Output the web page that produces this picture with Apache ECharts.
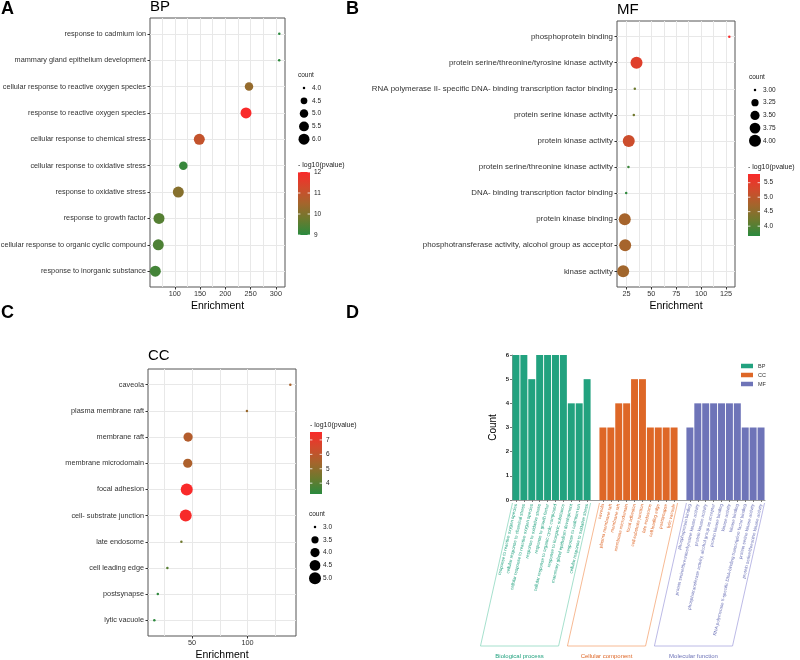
<!DOCTYPE html>
<html>
<head>
<meta charset="utf-8">
<script src="https://cdn.jsdelivr.net/npm/echarts@6/dist/echarts.min.js"></script>
<style>
html, body { margin: 0; padding: 0; background: #fff; }
#main { width: 800px; height: 660px; }
</style>
</head>
<body>
<div id="main"></div>
<script>
// ---- A: BP ----
const bpTerms = ['response to cadmium ion', 'mammary gland epithelium development', 'cellular response to reactive oxygen species', 'response to reactive oxygen species', 'cellular response to chemical stress', 'cellular response to oxidative stress', 'response to oxidative stress', 'response to growth factor', 'cellular response to organic cyclic compound', 'response to inorganic substance'];
const bpEnrich = [306.7, 306.5, 246.8, 240.9, 148.5, 116.9, 107.0, 68.8, 67.4, 61.5];
const bpCount = [4, 4, 5, 6, 6, 5, 6, 6, 6, 6];
const bpLogP = [9.0, 9.05, 10.3, 12.0, 11.0, 9.15, 10.1, 9.5, 9.4, 9.3];
const bpXTicks = [100, 150, 200, 250, 300];
const bpXLines = [75, 100, 125, 150, 175, 200, 225, 250, 275, 300];
const bpSizeBreaks = [4.0, 4.5, 5.0, 5.5, 6.0];
const bpColorTicks = [9, 10, 11, 12];

// ---- B: MF ----
const mfTerms = ['phosphoprotein binding', 'protein serine/threonine/tyrosine kinase activity', 'RNA polymerase II- specific DNA- binding transcription factor binding', 'protein serine kinase activity', 'protein kinase activity', 'protein serine/threonine kinase activity', 'DNA- binding transcription factor binding', 'protein kinase binding', 'phosphotransferase activity, alcohol group as acceptor', 'kinase activity'];
const mfEnrich = [128.3, 35.1, 33.4, 32.4, 27.3, 27.0, 24.7, 23.3, 23.7, 21.7];
const mfCount = [3, 4, 3, 3, 4, 3, 3, 4, 4, 4];
const mfLogP = [5.8, 5.45, 4.2, 4.25, 5.2, 3.8, 3.7, 4.75, 4.75, 4.7];
const mfXTicks = [25, 50, 75, 100, 125];
const mfXLines = [25, 37.5, 50, 62.5, 75, 87.5, 100, 112.5, 125];
const mfSizeBreaks = [3.00, 3.25, 3.50, 3.75, 4.00];
const mfColorTicks = [4.0, 4.5, 5.0, 5.5];

// ---- C: CC ----
const ccTerms = ['caveola', 'plasma membrane raft', 'membrane raft', 'membrane microdomain', 'focal adhesion', 'cell- substrate junction', 'late endosome', 'cell leading edge', 'postsynapse', 'lytic vacuole'];
const ccEnrich = [138.4, 99.4, 46.5, 46.2, 45.3, 44.4, 40.5, 27.9, 19.3, 16.2];
const ccCount = [3, 3, 4, 4, 5, 5, 3, 3, 3, 3];
const ccLogP = [5.5, 5.2, 5.75, 5.6, 7.55, 7.5, 4.4, 4.0, 3.35, 3.3];
const ccXTicks = [50, 100];
const ccXLines = [25, 50, 75, 100, 125];
const ccSizeBreaks = [3.0, 3.5, 4.0, 4.5, 5.0];
const ccColorTicks = [4, 5, 6, 7];

// ---- D: counts per term ----
const dBpTerms = ['response to reactive oxygen species', 'cellular response to chemical stress', 'cellular response to reactive oxygen species', 'response to oxidative stress', 'response to growth factor', 'cellular response to organic cyclic compound', 'response to inorganic substance', 'mammary gland epithelium development', 'response to cadmium ion', 'cellular response to oxidative stress'];
const dBpCount = [6, 6, 5, 6, 6, 6, 6, 4, 4, 5];
const dCcTerms = ['caveola', 'plasma membrane raft', 'membrane raft', 'membrane microdomain', 'focal adhesion', 'cell-substrate junction', 'late endosome', 'cell leading edge', 'postsynapse', 'lytic vacuole'];
const dCcCount = [3, 3, 4, 4, 5, 5, 3, 3, 3, 3];
const dMfTerms = ['phosphoprotein binding', 'protein serine/threonine/tyrosine kinase activity', 'protein kinase activity', 'phosphotransferase activity, alcohol group as acceptor', 'protein kinase binding', 'kinase activity', 'kinase binding', 'RNA polymerase II-specific DNA-binding transcription factor binding', 'protein serine kinase activity', 'protein serine/threonine kinase activity'];
const dMfCount = [3, 4, 4, 4, 4, 4, 4, 3, 3, 3];
const dGroupNames = ['Biological process', 'Cellular component', 'Molecular function'];
const dCountTicks = [0, 1, 2, 3, 4, 5, 6];

const FONT = "'Liberation Sans', Arial, Helvetica, sans-serif";
const gradColors = ['#2A8A3E', '#6B7A2E', '#A4652C', '#D24A2C', '#F92A2A'];
const barColors = ['#22A27F', '#DE6727', '#6E74B8'];
const boxColors = ['#8fd8c0', '#f5a878', '#aba8e0'];

let myChart = echarts.init(document.getElementById('main'));

let sizeOf = (c, lo, hi, dmin, dmax) => dmin + (dmax - dmin) * Math.sqrt((c - lo) / (hi - lo));

let panels = [
  { terms: bpTerms, enrich: bpEnrich, count: bpCount, logp: bpLogP, fs: 7.3,
    box: { left: 150, top: 18, width: 135, height: 269 }, xMin: 51, xMax: 318,
    xTicks: bpXTicks, xLines: bpXLines, cRange: [4, 6], dRange: [2.5, 11], pRange: [9, 12] },
  { terms: mfTerms, enrich: mfEnrich, count: mfCount, logp: mfLogP, fs: 7.9,
    box: { left: 617, top: 21, width: 118, height: 266 }, xMin: 15.5, xMax: 134,
    xTicks: mfXTicks, xLines: mfXLines, cRange: [3, 4], dRange: [2.5, 12], pRange: [3.66, 5.8] },
  { terms: ccTerms, enrich: ccEnrich, count: ccCount, logp: ccLogP, fs: 7.3,
    box: { left: 148, top: 369, width: 148, height: 267 }, xMin: 10.5, xMax: 143.5,
    xTicks: ccXTicks, xLines: ccXLines, cRange: [3, 5], dRange: [2.5, 12], pRange: [3.25, 7.55] }
];

let grids = [], xAxes = [], yAxes = [], series = [], visualMaps = [], gridLines = [];

panels.forEach((p, k) => {
  grids.push(Object.assign({ show: true, borderColor: '#555', borderWidth: 1, backgroundColor: '#fff', outerBoundsMode: 'none' }, p.box));
  xAxes.push({
    gridIndex: k, type: 'value', min: p.xMin, max: p.xMax,
    axisLine: { show: false, onZero: false },
    axisTick: { show: true, length: 2.5, lineStyle: { color: '#333' }, customValues: p.xTicks },
    axisLabel: { customValues: p.xTicks, fontSize: 7.3, color: '#333', margin: 3.5, fontFamily: FONT },
    splitLine: { show: false },
    name: 'Enrichment', nameLocation: 'middle', nameGap: 13.5,
    nameTextStyle: { fontSize: 10.5, color: '#000', fontFamily: FONT }
  });
  let idx = p.terms.map((t, i) => i);
  yAxes.push({
    gridIndex: k, type: 'value', inverse: true, min: -0.6, max: p.terms.length - 0.4,
    axisLine: { show: false, onZero: false },
    axisTick: { show: true, length: 2.5, lineStyle: { color: '#333' }, customValues: idx },
    axisLabel: { customValues: idx, fontSize: p.fs, color: '#333', margin: 4, fontFamily: FONT,
      formatter: v => p.terms[Math.round(v)] },
    splitLine: { show: true, lineStyle: { color: '#e8e8e8', width: 1 } }
  });
  series.push({
    type: 'scatter', xAxisIndex: k, yAxisIndex: k, z: 10,
    data: p.terms.map((t, i) => [p.enrich[i], i, p.count[i], p.logp[i]]),
    symbolSize: v => sizeOf(v[2], p.cRange[0], p.cRange[1], p.dRange[0], p.dRange[1]),
    itemStyle: { opacity: 1 },
    silent: true
  });
  // vertical panel grid lines (major + minor) under the dots
  gridLines.push({
    type: 'line', xAxisIndex: k, yAxisIndex: k, data: [], z: 1, silent: true,
    markLine: {
      z: 1, silent: true, symbol: 'none', animation: false, label: { show: false },
      lineStyle: { color: '#e8e8e8', width: 1, type: 'solid' },
      emphasis: { disabled: true },
      data: p.xLines.map(v => ({ xAxis: v }))
    }
  });
  visualMaps.push({
    type: 'continuous', show: false, seriesIndex: k, dimension: 3,
    min: p.pRange[0], max: p.pRange[1], inRange: { color: gradColors }
  });
});

// panel D: one category slot left empty between groups
let dCats = [...dBpTerms, '', ...dCcTerms, ' ', ...dMfTerms];
let groupOf = i => (i < 10 ? 0 : i < 21 ? 1 : 2);
let dCounts = [dBpCount, dCcCount, dMfCount];
let dStart = [0, 11, 22];

grids.push({ left: 512, top: 355, width: 253, height: 145, outerBoundsMode: 'none' });
xAxes.push({
  gridIndex: 3, type: 'category', data: dCats,
  axisLine: { lineStyle: { color: '#999', width: 1 } },
  axisTick: { show: true, alignWithLabel: true, length: 2, interval: (i, v) => v.trim() !== '', lineStyle: { color: '#777' } },
  axisLabel: { interval: 0, rotate: 77, fontSize: 4.5, margin: 4, fontFamily: FONT,
    color: (v, i) => barColors[groupOf(i)] }
});
yAxes.push({
  gridIndex: 3, type: 'value', min: 0, max: 6,
  axisLine: { show: true, onZero: false, lineStyle: { color: '#999', width: 1 } },
  axisTick: { show: true, length: 2, lineStyle: { color: '#777' }, customValues: dCountTicks },
  axisLabel: { customValues: dCountTicks, fontSize: 6, fontWeight: 'bold', color: '#222', margin: 3, fontFamily: FONT },
  splitLine: { show: false },
  name: 'Count', nameLocation: 'middle', nameGap: 14, nameRotate: 90,
  nameTextStyle: { fontSize: 10, color: '#000', fontFamily: FONT }
});
['BP', 'CC', 'MF'].forEach((nm, g) => {
  series.push({
    type: 'bar', name: nm, xAxisIndex: 3, yAxisIndex: 3, stack: 'grp',
    barCategoryGap: '12%',
    itemStyle: { color: barColors[g] },
    data: dCats.map((c, i) => {
      let j = i - dStart[g];
      return j >= 0 && j < 10 ? dCounts[g][j] : '-';
    }),
    silent: true
  });
});
series = series.concat(gridLines);

let option = {
  animation: false,
  textStyle: { fontFamily: FONT },
  grid: grids,
  xAxis: xAxes,
  yAxis: yAxes,
  visualMap: visualMaps,
  legend: {
    data: ['BP', 'CC', 'MF'], orient: 'vertical', left: 736, top: 358,
    itemWidth: 12, itemHeight: 4.5, itemGap: 3, icon: 'rect', selectedMode: false,
    textStyle: { fontSize: 5.5, color: '#333', fontFamily: FONT }
  },
  series: series
};
myChart.setOption(option);

// ---- decorations: panel letters, titles, legends, colourbars, group boxes ----
let els = [];
let txt = (s, x, y, size, extra) => els.push({
  type: 'text', x: x, y: y, silent: true,
  style: Object.assign({ text: s, fontSize: size, fontFamily: FONT, fill: '#000', align: 'left', verticalAlign: 'middle' }, extra || {})
});

txt('A', 1, 9, 18, { fontWeight: 'bold' });
txt('B', 346, 9, 18, { fontWeight: 'bold' });
txt('C', 1, 313, 18, { fontWeight: 'bold' });
txt('D', 346, 313, 18, { fontWeight: 'bold' });
txt('BP', 150, 7, 15);
txt('MF', 617, 10, 15);
txt('CC', 148, 356, 15);

let sizeLegend = (p, breaks, x, y0, step, digits) => {
  txt('count', x - 6, y0 - 13, 6.5, { fill: '#222' });
  breaks.forEach((b, i) => {
    let d = sizeOf(b, p.cRange[0], p.cRange[1], p.dRange[0], p.dRange[1]);
    els.push({ type: 'circle', silent: true, shape: { cx: x, cy: y0 + i * step, r: d / 2 }, style: { fill: '#000' } });
    txt(b.toFixed(digits), x + 8, y0 + i * step, 6.5, { fill: '#222' });
  });
};

let colorBar = (p, ticks, x, top, h, digits) => {
  let [lo, hi] = p.pRange;
  txt('- log10(pvalue)', x, top - 7, 7, { fill: '#222' });
  els.push({
    type: 'rect', silent: true, shape: { x: x, y: top, width: 12, height: h },
    style: { fill: new echarts.graphic.LinearGradient(0, 0, 0, 1,
      gradColors.slice().reverse().map((c, i) => ({ offset: i / (gradColors.length - 1), color: c }))) }
  });
  ticks.forEach(t => {
    let y = top + (hi - t) / (hi - lo) * h;
    els.push({ type: 'line', silent: true, shape: { x1: x, y1: y, x2: x + 2.4, y2: y }, style: { stroke: '#fff', lineWidth: 0.8 } });
    els.push({ type: 'line', silent: true, shape: { x1: x + 9.6, y1: y, x2: x + 12, y2: y }, style: { stroke: '#fff', lineWidth: 0.8 } });
    txt(t.toFixed(digits), x + 16, y, 6.5, { fill: '#222' });
  });
};

sizeLegend(panels[0], bpSizeBreaks, 304, 88, 12.8, 1);
colorBar(panels[0], bpColorTicks, 298, 172, 63, 0);
sizeLegend(panels[1], mfSizeBreaks, 755, 90, 12.7, 2);
colorBar(panels[1], mfColorTicks, 748, 174, 62, 1);
colorBar(panels[2], ccColorTicks, 310, 432, 62, 0);
sizeLegend(panels[2], ccSizeBreaks, 315, 527, 12.8, 1);

// group boxes under the D axis labels
let y0 = myChart.convertToPixel({ yAxisIndex: 3 }, 0);
let slot = myChart.convertToPixel({ xAxisIndex: 3 }, 1) - myChart.convertToPixel({ xAxisIndex: 3 }, 0);
dStart.forEach((s, g) => {
  let xl = myChart.convertToPixel({ xAxisIndex: 3 }, s) - slot * 0.44;
  let xr = myChart.convertToPixel({ xAxisIndex: 3 }, s + 9) + slot * 0.44;
  els.push({
    type: 'polyline', silent: true,
    shape: { points: [[xl, y0 + 3], [xl - 32, y0 + 146], [xr - 32, y0 + 146], [xr, y0 + 3]] },
    style: { stroke: boxColors[g], fill: null, lineWidth: 0.8 }
  });
  txt(dGroupNames[g], (xl + xr) / 2 - 32, y0 + 156, 6, { fill: barColors[g], align: 'center' });
});

myChart.setOption({ graphic: { elements: els } });
</script>
</body>
</html>
